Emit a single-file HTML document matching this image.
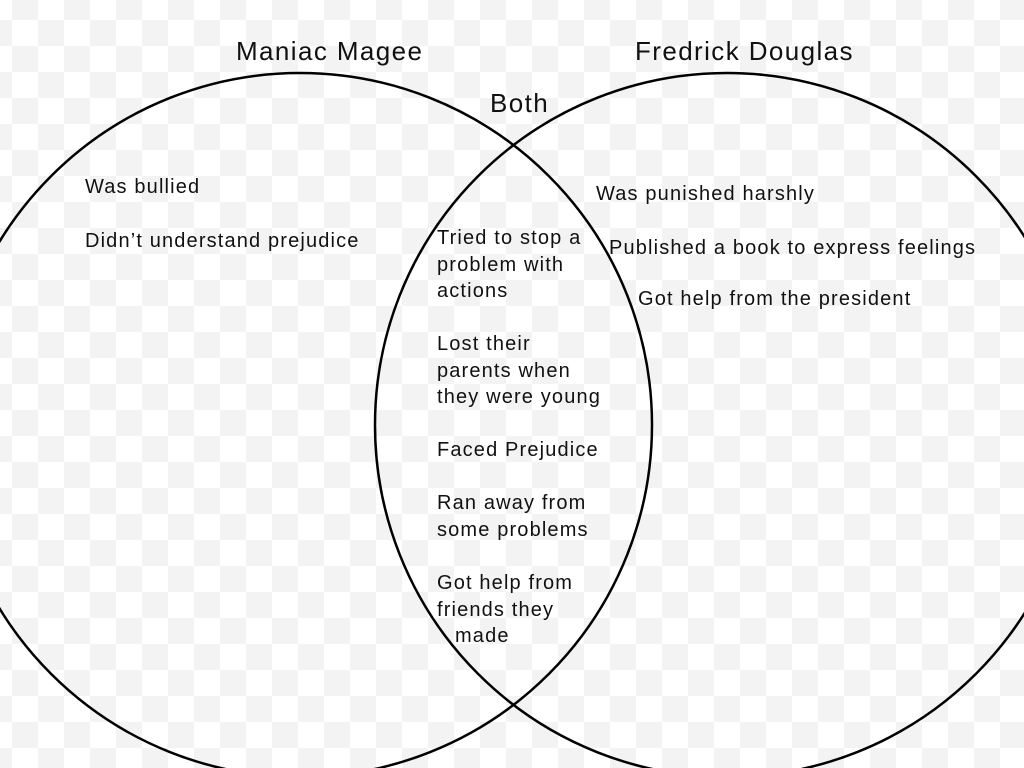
<!DOCTYPE html>
<html><head><style>
body{margin:0;width:1024px;height:768px;overflow:hidden;
background-color:#fff;
background-image:linear-gradient(45deg,#f3f3f3 25%,transparent 25%,transparent 75%,#f3f3f3 75%),linear-gradient(45deg,#f3f3f3 25%,transparent 25%,transparent 75%,#f3f3f3 75%);
background-size:52px 52px;background-position:-14px -6px,12px 20px;
font-family:"Liberation Sans",sans-serif;}
svg{position:absolute;left:0;top:0}
.t{position:absolute;font-size:20px;color:#111;white-space:nowrap;line-height:26.5px;letter-spacing:1.15px}
.h{position:absolute;font-size:26px;color:#111;white-space:nowrap;letter-spacing:1.4px}
</style></head><body>
<svg width="1024" height="768"><circle cx="300" cy="425" r="352" fill="none" stroke="#000" stroke-width="2.5"/><circle cx="727" cy="425" r="352" fill="none" stroke="#000" stroke-width="2.5"/></svg>
<div class="h" style="left:236px;top:36px">Maniac Magee</div>
<div class="h" style="left:635px;top:36px">Fredrick Douglas</div>
<div class="h" style="left:490px;top:88px">Both</div>
<div class="t" style="left:85px;top:174px">Was bullied</div>
<div class="t" style="left:85px;top:228px">Didn’t understand prejudice</div>
<div class="t" style="left:596px;top:181px">Was punished harshly</div>
<div class="t" style="left:609px;top:235px">Published a book to express feelings</div>
<div class="t" style="left:638px;top:286px">Got help from the president</div>
<div class="t" style="left:437px;top:225px">Tried to stop a<br>problem with<br>actions</div>
<div class="t" style="left:437px;top:331px">Lost their<br>parents when<br>they were young</div>
<div class="t" style="left:437px;top:437px">Faced Prejudice</div>
<div class="t" style="left:437px;top:490px">Ran away from<br>some problems</div>
<div class="t" style="left:437px;top:570px">Got help from<br>friends they<br><span style="padding-left:18px">made</span></div>
</body></html>
